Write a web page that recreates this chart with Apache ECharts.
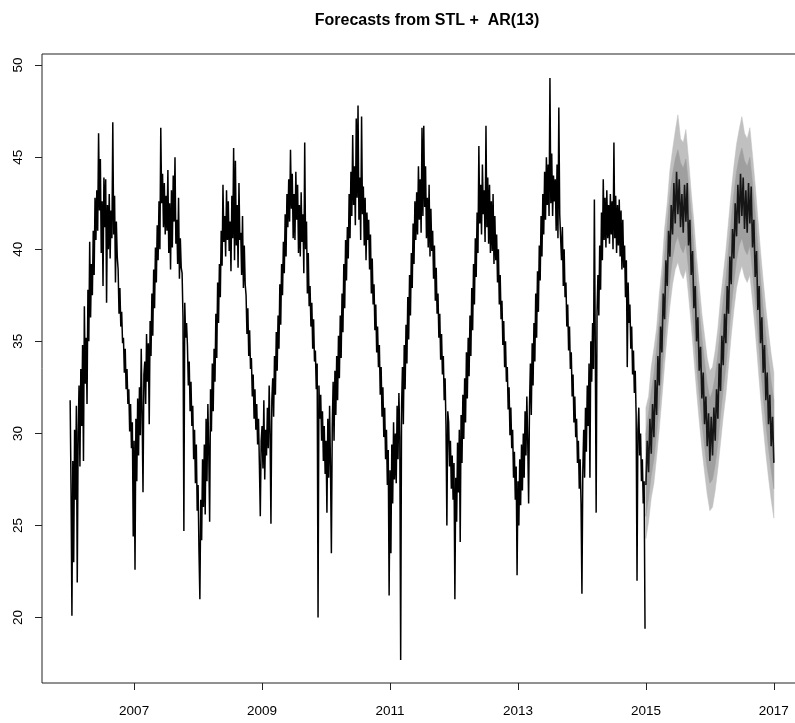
<!DOCTYPE html>
<html><head><meta charset="utf-8">
<script src="https://cdn.jsdelivr.net/npm/echarts@6/dist/echarts.min.js"></script>
<style>html,body{margin:0;padding:0;background:#fff;overflow:hidden}#c{width:812px;height:723px}</style>
</head><body><div id="c"></div>
<script>
// ---- observed series, 72 readings per year (6 per month) ----
const y2006 = [31.8,27.0,20.1,28.5,23.0,30.2, 26.4,31.5,21.9,30.0,32.6,28.2, 33.5,30.4,34.8,28.5,36.9,32.7, 35.2,31.6,37.8,35.0,40.4,36.3, 39.2,37.5,41.0,38.6,42.8,40.5, 43.2,41.0,46.3,42.1,44.9,39.8, 42.6,38.0,43.9,41.2,43.8,37.1, 42.4,40.0,43.0,39.5,42.1,40.6, 46.9,40.8,42.9,38.2,41.5,39.6, 38.9,36.5,37.9,35.8,36.6,34.9, 35.2,33.3,34.6,32.4,33.5,31.6, 32.4,30.1,31.6,29.2,30.6,24.4];
const y2007 = [29.6,22.6,30.8,27.4,31.9,28.8, 32.5,29.9,34.6,31.1,26.8,33.2, 33.9,31.6,35.4,32.8,34.9,30.5, 36.1,34.2,37.6,35.3,38.9,36.8, 40.1,38.2,41.3,39.4,42.6,40.0, 46.6,42.5,44.1,41.2,43.6,40.8, 42.9,41.0,44.3,39.8,42.5,38.9, 43.2,40.1,44.0,41.5,45.0,40.3, 41.6,39.2,42.8,38.4,40.6,39.0, 38.7,36.3,24.7,37.1,35.2,36.0, 34.8,32.6,33.9,31.2,32.8,30.4, 31.5,28.6,30.2,27.3,29.4,25.8];
const y2008 = [27.2,23.6,21.0,26.4,24.2,28.6, 26.0,29.4,25.6,30.8,27.4,31.6, 29.0,25.2,32.4,30.1,33.8,31.2, 34.6,32.8,36.5,34.1,38.2,36.0, 39.2,37.4,41.0,39.1,43.5,40.4, 41.8,39.6,43.2,40.5,42.6,39.9, 41.5,38.8,42.9,40.6,45.5,39.4, 44.8,40.2,42.4,39.0,43.6,40.5, 40.9,38.6,41.8,37.9,40.2,38.1, 37.5,35.4,36.8,34.2,35.6,33.5, 34.1,32.0,33.2,30.8,32.4,30.2, 31.6,29.4,30.8,28.3,25.5,29.6];
const y2009 = [30.4,28.1,31.8,27.5,30.2,28.8, 31.4,29.2,32.6,30.0,25.1,31.8, 33.0,30.9,34.2,32.1,35.5,33.4, 36.4,34.6,38.1,35.9,39.2,37.5, 40.4,38.7,41.9,39.6,43.0,41.2, 43.8,41.5,45.4,42.2,44.1,40.6, 43.0,40.5,44.2,41.6,43.5,39.8, 42.4,39.6,43.1,40.4,41.9,38.7, 45.8,40.0,41.5,37.6,39.8,36.9, 38.0,35.8,37.1,34.6,36.2,33.9, 34.5,32.4,33.8,20.0,32.6,30.8, 32.1,29.6,31.2,28.5,30.4,27.8];
const y2010 = [29.6,25.7,30.8,27.6,31.5,28.2, 23.5,30.4,32.8,29.6,33.4,31.0, 34.2,31.8,35.3,33.0,36.4,34.1, 37.6,35.5,39.2,36.8,40.5,38.3, 41.2,39.5,43.0,40.6,44.2,41.8, 46.2,42.4,44.5,41.3,47.1,42.8, 47.8,41.6,43.9,40.5,47.2,41.9, 43.4,40.2,42.8,39.4,42.0,40.5, 41.6,38.9,40.8,37.6,39.5,37.0, 38.1,35.6,37.0,34.4,35.8,33.6, 34.8,32.1,33.6,30.9,32.5,29.8, 31.4,28.6,30.2,27.2,29.1,21.2];
const y2011 = [28.0,23.5,29.4,26.2,30.6,27.5, 30.0,27.3,31.5,28.6,32.2,29.8, 17.7,31.4,33.6,30.5,34.8,32.4, 35.9,33.8,37.4,35.1,38.6,36.4, 39.8,37.9,41.4,39.2,42.6,40.5, 43.1,40.8,44.5,41.6,43.8,40.9, 46.6,41.8,46.7,42.3,44.5,40.6, 42.8,40.1,43.5,39.6,42.2,39.9, 41.0,38.4,40.2,37.2,39.0,36.5, 37.6,35.2,36.5,34.0,35.4,33.2, 34.2,31.8,33.0,30.4,25.0,31.2, 30.6,28.2,29.6,27.0,28.8,26.4];
const y2012 = [28.4,21.0,27.6,25.2,29.5,26.8, 30.2,24.1,31.0,28.4,32.1,29.7, 33.0,30.6,34.4,31.9,35.2,33.1, 36.4,34.2,37.9,35.6,39.2,37.0, 40.6,38.5,42.0,39.8,45.6,41.4, 43.5,40.8,44.6,41.9,43.2,40.4, 46.7,41.2,43.9,40.3,43.5,39.8, 42.6,39.9,43.0,39.2,41.8,39.4, 40.8,38.2,40.0,37.0,38.6,36.2, 37.2,34.8,36.1,33.6,35.0,32.8, 33.6,31.3,32.5,29.9,31.4,29.2, 30.2,27.6,29.0,26.4,28.2,22.3];
const y2013 = [27.4,25.0,28.6,26.1,29.4,26.9, 30.0,27.6,31.2,28.8,32.0,29.6, 26.2,31.6,33.8,31.0,34.9,32.6, 36.0,33.9,37.6,35.2,38.8,36.6, 40.2,38.3,41.8,39.6,43.0,40.8, 44.2,41.6,45.0,42.4,44.6,41.8, 49.3,42.5,45.2,41.8,44.0,42.6, 43.8,41.0,44.6,40.6,47.7,41.9, 42.0,39.4,41.2,38.0,40.0,37.4, 38.2,35.8,37.0,34.5,35.8,33.5, 34.4,32.0,33.2,30.6,32.0,29.8, 30.8,28.4,29.6,27.0,28.6,26.2];
const y2014 = [21.3,28.0,30.2,27.6,31.4,29.0, 32.6,30.4,33.8,27.6,35.0,32.8, 36.0,33.5,42.7,34.9,25.7,36.6, 38.6,36.4,40.2,37.8,42.0,39.4, 43.8,40.5,42.8,40.1,43.2,40.6, 42.4,40.3,43.0,40.8,42.6,40.0, 45.8,40.6,42.9,39.8,42.4,40.2, 42.7,39.6,42.1,38.9,41.6,39.0, 40.2,37.4,39.4,33.6,38.2,36.0, 37.0,34.6,35.8,33.2,34.5,32.2, 33.4,31.0,22.0,30.2,31.4,28.8, 30.0,27.4,28.6,26.2,27.4,19.4];
const histStart = 2006, histPerYear = 72;

// ---- forecast mean, 48 readings per year from 2015.0 ----
const fcMean = [27.2,29.6,27.9,30.8,28.9,31.6,29.8,32.9,31.0,34.2,32.6,35.8,34.4,37.6,36.2,39.4,38.0,41.0,39.6,42.4,40.8,43.6,41.4,44.2,41.9,43.8,41.2,43.0,40.9,43.5,41.5,43.6,40.2,41.6,38.6,39.9,36.8,38.0,35.0,36.3,33.4,34.7,31.9,33.3,30.5,32.0,29.3,31.1,
  28.5,30.9,28.8,31.4,29.6,32.4,30.8,33.8,32.3,35.3,33.7,36.5,34.9,38.0,36.5,39.6,38.1,41.1,39.5,42.5,40.7,43.5,41.4,44.1,41.8,43.9,41.1,43.2,40.9,43.6,41.4,43.4,40.1,41.6,38.5,39.9,36.7,38.0,34.9,36.3,33.3,34.8,31.8,33.3,30.5,32.1,29.3,30.9,28.4];
const fcStart = 2015, fcMeanPerYear = 48;

// ---- prediction intervals, 24 readings per year from 2015.0 ----
const fcHi95 = [31.4,32.0,33.6,34.6,35.7,37.5,39.0,41.1,42.5,44.3,45.4,46.4,47.3,46.0,45.8,46.5,44.9,43.1,41.5,39.6,38.1,36.5,35.3,34.1,
  33.4,33.6,34.5,35.7,37.3,38.6,39.9,41.5,43.1,44.5,45.7,46.5,47.2,46.3,46.0,46.6,45.1,43.5,41.7,39.9,38.3,36.8,35.5,34.3,33.3];
const fcLo95 = [24.3,25.2,26.5,27.3,28.7,30.2,31.9,33.7,35.4,36.9,38.1,38.9,39.3,38.7,38.4,38.9,37.5,35.9,34.1,32.3,30.7,29.2,27.9,26.7,
  25.8,26.0,26.9,28.1,29.5,30.9,32.1,33.7,35.3,36.7,37.9,38.6,39.1,38.5,38.2,38.6,37.2,35.6,33.8,32.0,30.4,28.9,27.6,26.4,25.4];
const fcHi80 = [30.0,31.1,32.3,33.2,34.6,36.1,37.9,39.6,41.3,42.9,44.1,44.9,45.4,44.7,44.4,44.9,43.5,41.9,40.1,38.3,36.7,35.2,33.9,32.7,
  31.9,32.3,33.1,34.3,35.8,37.2,38.4,40.0,41.6,43.0,44.2,45.0,45.5,44.8,44.5,45.0,43.6,42.0,40.2,38.4,36.8,35.3,34.0,32.8,31.8];
const fcLo80 = [25.5,26.5,27.7,28.6,30.0,31.5,33.3,35.0,36.7,38.3,39.5,40.3,40.7,40.1,39.8,40.3,38.9,37.3,35.5,33.7,32.1,30.6,29.3,28.1,
  27.3,27.5,28.3,29.5,31.0,32.4,33.6,35.2,36.8,38.2,39.4,40.2,40.6,40.0,39.7,40.2,38.8,37.2,35.4,33.6,32.0,30.5,29.2,28.0,27.0];
const bandPerYear = 24;

const xTicks = [2007, 2009, 2011, 2013, 2015, 2017];
const yTicks = [20, 25, 30, 35, 40, 45, 50];
const titleText = 'Forecasts from STL +  AR(13)';

// ---- build series data ----
const histVals = [].concat(y2006, y2007, y2008, y2009, y2010, y2011, y2012, y2013, y2014);
const histData = histVals.map((v, i) => [histStart + i / histPerYear, v]);
const meanData = fcMean.map((v, j) => [fcStart + j / fcMeanPerYear, v]);

function bandSeries(lo, hi, color) {
  return {
    type: 'custom', silent: true, animation: false, clip: true,
    data: [[fcStart + 1, lo[0]]],
    renderItem: function (params, api) {
      const pts = [];
      for (let k = 0; k < hi.length; k++) pts.push(api.coord([fcStart + k / bandPerYear, hi[k]]));
      for (let k = lo.length - 1; k >= 0; k--) pts.push(api.coord([fcStart + k / bandPerYear, lo[k]]));
      return { type: 'polygon', shape: { points: pts }, style: { fill: color, stroke: color, lineWidth: 0.5 } };
    }
  };
}

const FONT = 'Liberation Sans, Arial, Helvetica, sans-serif';
const chart = echarts.init(document.getElementById('c'), null, { renderer: 'canvas' });
chart.setOption({
  animation: false,
  backgroundColor: '#fff',
  title: {
    text: titleText, left: 422, top: 8, textAlign: 'center',
    textStyle: { fontFamily: FONT, fontWeight: 'bold', fontSize: 16, color: '#000' }
  },
  grid: { left: 42, top: 54, width: 760, height: 629, show: true, borderColor: '#222', borderWidth: 1, backgroundColor: 'transparent', containLabel: false },
  xAxis: {
    type: 'value', min: 2005.56, max: 2017.44,
    axisLine: { show: false }, splitLine: { show: false },
    axisTick: { show: true, customValues: xTicks, length: 7, lineStyle: { color: '#222', width: 1 } },
    axisLabel: { customValues: xTicks, margin: 21, fontSize: 13.5, color: '#000', fontFamily: FONT,
      formatter: v => String(v) }
  },
  yAxis: {
    type: 'value', min: 16.45, max: 50.6,
    axisLine: { show: false }, splitLine: { show: false },
    axisTick: { show: true, customValues: yTicks, length: 7, lineStyle: { color: '#222', width: 1 } },
    axisLabel: { customValues: yTicks, rotate: 90, margin: 17, fontSize: 13.5, color: '#000', fontFamily: FONT,
      formatter: v => String(v) }
  },
  series: [
    bandSeries(fcLo95, fcHi95, '#c0c0c0'),
    bandSeries(fcLo80, fcHi80, '#9f9f9f'),
    { type: 'line', data: meanData, showSymbol: false, symbol: 'none', silent: true,
      lineStyle: { color: '#161616', width: 1.6 }, animation: false },
    { type: 'line', data: histData, showSymbol: false, symbol: 'none', silent: true,
      lineStyle: { color: '#000', width: 1.5 }, animation: false }
  ]
});
</script></body></html>
